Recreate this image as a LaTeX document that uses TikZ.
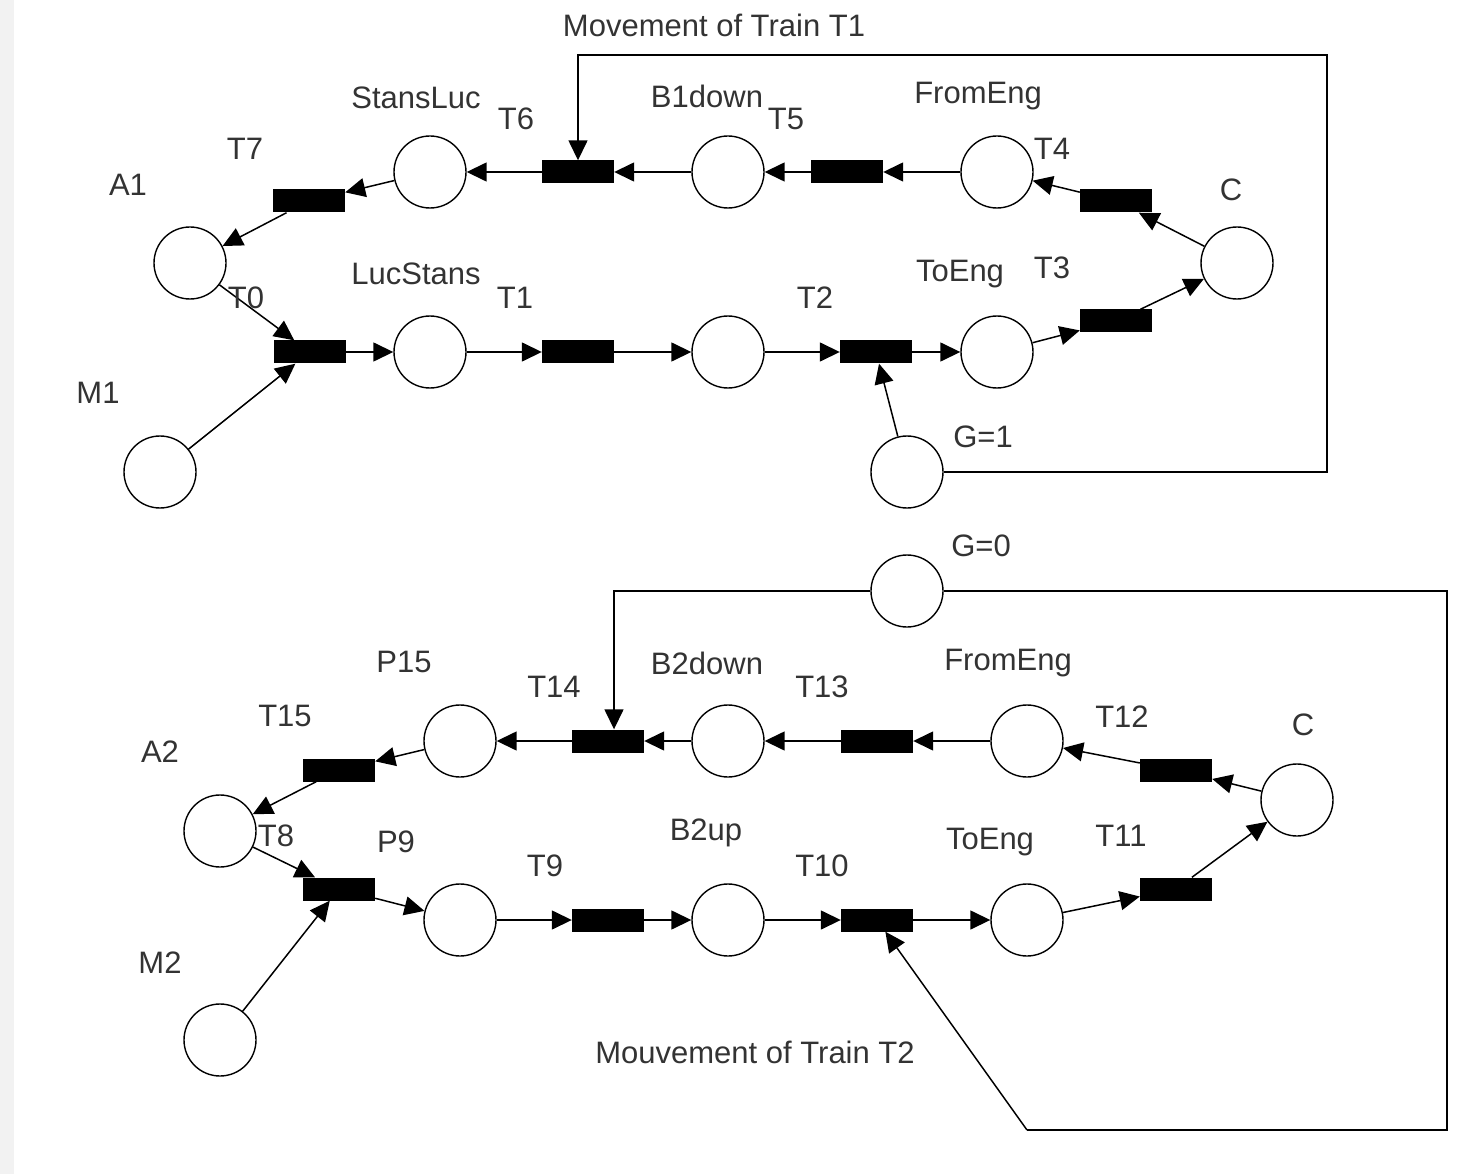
\documentclass[tikz,border=0pt]{standalone}
\usepackage{fontspec}
\setmainfont{Liberation Sans}
\usetikzlibrary{arrows.meta}
\begin{document}
\begin{tikzpicture}[x=1pt,y=-1pt,
  place/.style={circle,draw,line width=1.4pt,minimum size=72pt,inner sep=0pt},
  trans/.style={rectangle,fill=black,minimum width=72pt,minimum height=23pt,inner sep=0pt},
  arc/.style={-{Triangle[length=20pt,width=19pt]},line width=1.5pt},
  wire/.style={line width=1.5pt},
  lbl/.style={font=\fontsize{31}{37}\selectfont,text=black!80,inner sep=0pt}]
\useasboundingbox (0,0) rectangle (1484,1174);
\fill[black!5] (0,0) rectangle (14,1174);

% ---------- top net ----------
\node[place] (a1) at (190,263) {};
\node[place] (m1) at (160,472) {};
\node[place] (lucstans) at (430,352) {};
\node[place] (pmid) at (728,352) {};
\node[place] (toeng1) at (997,352) {};
\node[place] (c1) at (1237,263) {};
\node[place] (fromeng1) at (997,172) {};
\node[place] (b1down) at (728,172) {};
\node[place] (stansluc) at (430,172) {};
\node[place] (g1) at (907,472) {};

\node[trans] (t0) at (310,352) {};
\node[trans] (t1) at (578,352) {};
\node[trans] (t2) at (876,352) {};
\node[trans] (t3) at (1116,321) {};
\node[trans] (t4) at (1116,201) {};
\node[trans] (t5) at (847,172) {};
\node[trans] (t6) at (578,172) {};
\node[trans] (t7) at (309,201) {};

\draw[arc] (a1) -- (t0);
\draw[arc] (m1) -- (t0);
\draw[arc] (t0) -- (lucstans);
\draw[arc] (lucstans) -- (t1);
\draw[arc] (t1) -- (pmid);
\draw[arc] (pmid) -- (t2);
\draw[arc] (t2) -- (toeng1);
\draw[arc] (toeng1) -- (t3);
\draw[arc] (t3) -- (c1);
\draw[arc] (c1) -- (t4);
\draw[arc] (t4) -- (fromeng1);
\draw[arc] (fromeng1) -- (t5);
\draw[arc] (t5) -- (b1down);
\draw[arc] (b1down) -- (t6);
\draw[arc] (t6) -- (stansluc);
\draw[arc] (stansluc) -- (t7);
\draw[arc] (t7) -- (a1);
\draw[arc] (g1) -- (t2);
\coordinate (k1) at (1327,472);
\coordinate (k2) at (1327,55);
\draw[arc] (g1.east) -- (k1) -- (k2) -| (t6.north);

\node[lbl] at (714,25) {Movement of Train T1};
\node[lbl] at (416,98) {StansLuc};
\node[lbl] at (516,119) {T6};
\node[lbl] at (707,96) {B1down};
\node[lbl] at (786,119) {T5};
\node[lbl] at (978,96) {FromEng};
\node[lbl] at (1052,149) {T4};
\node[lbl] at (1231,190) {C};
\node[lbl] at (245,149) {T7};
\node[lbl] at (128,185) {A1};
\node[lbl] at (416,274) {LucStans};
\node[lbl] at (246,298) {T0};
\node[lbl] at (515,298) {T1};
\node[lbl] at (815,298) {T2};
\node[lbl] at (960,274) {ToEng};
\node[lbl] at (1052,268) {T3};
\node[lbl] at (98,393) {M1};
\node[lbl] at (983,437) {G=1};

% ---------- bottom net ----------
\node[place] (a2) at (220,831) {};
\node[place] (m2) at (220,1040) {};
\node[place] (p9) at (460,920) {};
\node[place] (b2up) at (728,920) {};
\node[place] (toeng2) at (1027,920) {};
\node[place] (c2) at (1297,800) {};
\node[place] (fromeng2) at (1027,741) {};
\node[place] (b2down) at (728,741) {};
\node[place] (p15) at (460,741) {};
\node[place] (g0) at (907,591) {};

\node[trans] (t8) at (339,889) {};
\node[trans] (t9) at (608,920) {};
\node[trans] (t10) at (877,920) {};
\node[trans] (t11) at (1176,889) {};
\node[trans] (t12) at (1176,770) {};
\node[trans] (t13) at (877,741) {};
\node[trans] (t14) at (608,741) {};
\node[trans] (t15) at (339,770) {};

\draw[arc] (a2) -- (t8);
\draw[arc] (m2) -- (t8);
\draw[arc] (t8) -- (p9);
\draw[arc] (p9) -- (t9);
\draw[arc] (t9) -- (b2up);
\draw[arc] (b2up) -- (t10);
\draw[arc] (t10) -- (toeng2);
\draw[arc] (toeng2) -- (t11);
\draw[arc] (t11) -- (c2);
\draw[arc] (c2) -- (t12);
\draw[arc] (t12) -- (fromeng2);
\draw[arc] (fromeng2) -- (t13);
\draw[arc] (t13) -- (b2down);
\draw[arc] (b2down) -- (t14);
\draw[arc] (t14) -- (p15);
\draw[arc] (p15) -- (t15);
\draw[arc] (t15) -- (a2);
\draw[arc] (g0.west) -| ([xshift=6pt]t14.north);
\coordinate (k3) at (1447,591);
\coordinate (k4) at (1447,1130);
\coordinate (k5) at (1027,1130);
\draw[wire] (g0.east) -- (k3) -- (k4) -- (k5);
\draw[arc] (k5) -- (t10);

\node[lbl] at (981,546) {G=0};
\node[lbl] at (404,662) {P15};
\node[lbl] at (554,687) {T14};
\node[lbl] at (707,663) {B2down};
\node[lbl] at (822,687) {T13};
\node[lbl] at (1008,663) {FromEng};
\node[lbl] at (1122,717) {T12};
\node[lbl] at (1303,725) {C};
\node[lbl] at (285,716) {T15};
\node[lbl] at (160,752) {A2};
\node[lbl] at (276,836) {T8};
\node[lbl] at (396,842) {P9};
\node[lbl] at (706,833) {B2up};
\node[lbl] at (545,866) {T9};
\node[lbl] at (822,866) {T10};
\node[lbl] at (990,842) {ToEng};
\node[lbl] at (1121,836) {T11};
\node[lbl] at (160,963) {M2};
\node[lbl] at (755,1052) {Mouvement of Train T2};
\end{tikzpicture}
\end{document}
